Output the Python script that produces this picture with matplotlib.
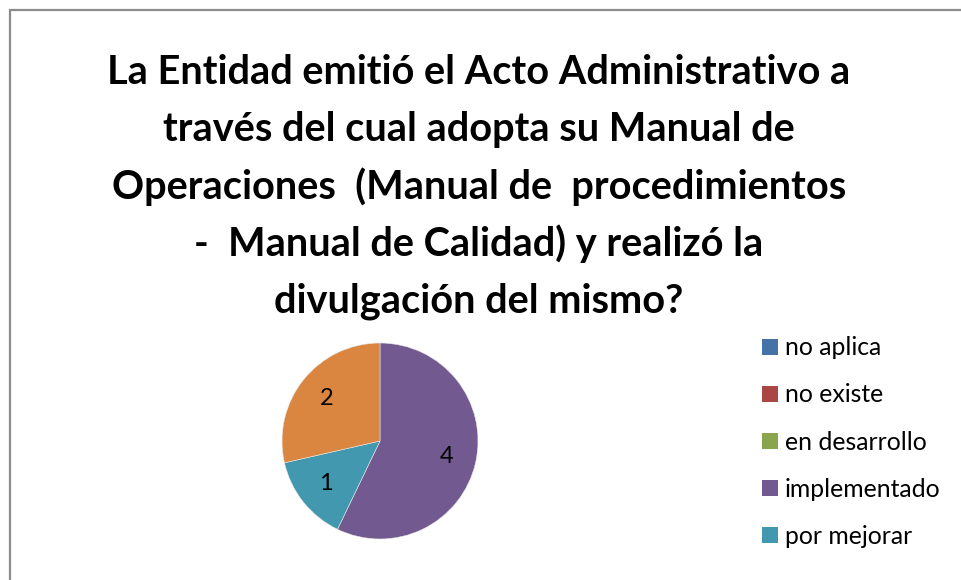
import matplotlib
matplotlib.use("Agg")
import matplotlib.pyplot as plt
from matplotlib.patches import Rectangle, Patch

plt.rcParams['font.family'] = ['Lato', 'DejaVu Sans']

# data
categories = ['no aplica', 'no existe', 'en desarrollo', 'implementado', 'por mejorar', 'otro']
values = [0, 0, 0, 4, 1, 2]
colors = ['#4573A7', '#AA4643', '#89A54E', '#725990', '#4198AF', '#DA8640']
title_lines = [
    'La Entidad emitió el Acto Administrativo a',
    'través del cual adopta su Manual de',
    'Operaciones  (Manual de  procedimientos',
    '-  Manual de Calidad) y realizó la',
    'divulgación del mismo?',
]
legend_shown = 5  # last entry falls outside the picture

W, H = 961, 580
fig = plt.figure(figsize=(W / 100, H / 100), dpi=100)

# chart frame (bottom edge is cut off)
fig.patches.append(Rectangle((10 / W, -0.1), 1.2, 1.1 - 10 / H, transform=fig.transFigure,
                             fill=False, edgecolor='#8c8c8c', lw=1.6))

# title, one line at a time
for i, line in enumerate(title_lines):
    fig.text(479 / W, 1 - (73 + i * 57) / H, line, ha='center', va='center',
             fontsize=28.6, fontweight='bold', color='black')

# pie
ax = fig.add_axes([(380 - 98) / W, (580 - 539) / H, 196 / W, 196 / H])
wedges, _, autotexts = ax.pie(values, colors=colors, startangle=90, counterclock=False,
                              autopct=lambda p: '%d' % round(p * sum(values) / 100) if p > 0 else '',
                              pctdistance=0.7, wedgeprops=dict(linewidth=0.4, edgecolor='#e8e8e8'),
                              textprops=dict(fontsize=17))
ax.set_xlim(-1, 1)
ax.set_ylim(-1, 1)
ax.set_aspect('equal')
ax.axis('off')

handles = [Patch(facecolor=c) for c in colors[:legend_shown]]
fig.legend(handles, categories[:legend_shown], loc='upper left',
           bbox_to_anchor=(740 / W, 1 - 314 / H), frameon=False, fontsize=17.8,
           handlelength=0.62, handleheight=0.62, handletextpad=0.3, labelspacing=0.98)

fig.savefig('out.png', dpi=100)
